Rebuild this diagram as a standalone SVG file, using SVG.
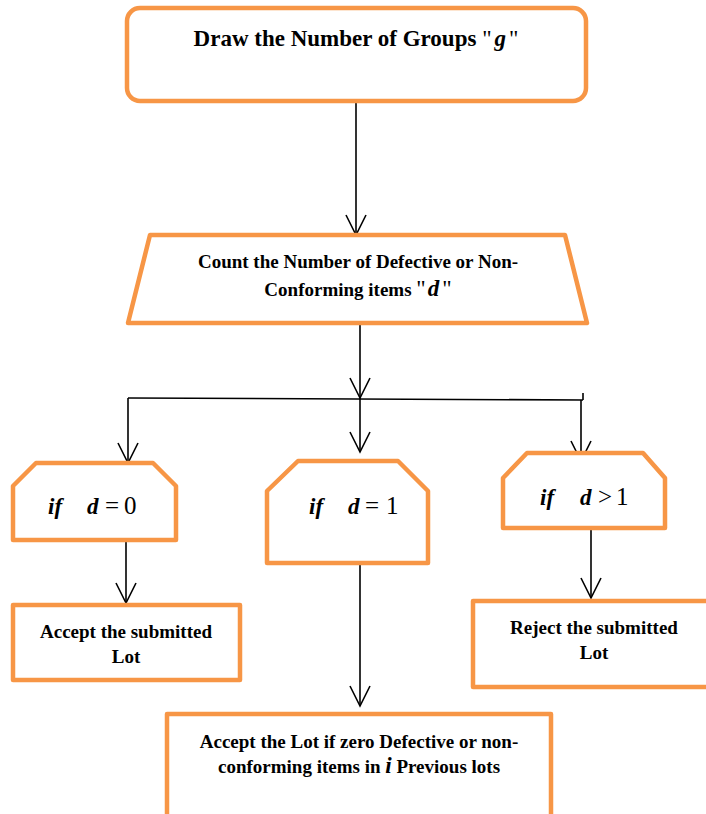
<svg xmlns="http://www.w3.org/2000/svg" width="706" height="814" viewBox="0 0 706 814">
<defs>
<style>
.node{fill:#fff;stroke:#F79646;stroke-width:4.5;stroke-linejoin:round}
.t{font-family:"Liberation Serif","Times New Roman",serif;font-weight:bold;font-size:19px;fill:#000;text-anchor:middle}
.big{font-size:23px}
.m{font-family:"Liberation Serif","Times New Roman",serif;font-size:23px;fill:#000}
.mi{font-style:italic;font-weight:bold}
.op{font-size:25px}
.c{fill:none;stroke:#000;stroke-width:1.6}
</style>
<marker id="v" viewBox="-22 -12 24 24" refX="0" refY="0" markerWidth="24" markerHeight="24" markerUnits="userSpaceOnUse" orient="auto">
<path d="M-20,-10 L0,0 L-20,10" fill="none" stroke="#000" stroke-width="1.6"/>
</marker>
</defs>
<g id="connectors">
<path class="c" d="M356,101 V235" marker-end="url(#v)"/>
<path class="c" d="M360,325 V398" marker-end="url(#v)"/>
<path class="c" d="M128,398 L583,400"/>
<path class="c" d="M583,393 V400"/>
<path class="c" d="M128,398 V463" marker-end="url(#v)"/>
<path class="c" d="M360,398 V452" marker-end="url(#v)"/>
<path class="c" d="M581,400 V461" marker-end="url(#v)"/>
<path class="c" d="M126,540 V603" marker-end="url(#v)"/>
<path class="c" d="M360,563 V706" marker-end="url(#v)"/>
<path class="c" d="M591,528 V598" marker-end="url(#v)"/>
</g>
<g id="n1">
<rect class="node" x="127" y="8" width="459" height="93" rx="13"/>
<text class="t big" x="356" y="46">Draw the Number of Groups <tspan class="m" font-weight="normal">"</tspan><tspan class="m mi" dx="3">g</tspan><tspan class="m" font-weight="normal" dx="3">"</tspan></text>
</g>
<g id="n2">
<polygon class="node" points="150,235 565,235 587,323 128,323"/>
<text class="t" x="358" y="268">Count the Number of Defective or Non-</text>
<text class="t" x="358" y="296">Conforming items <tspan class="m" font-weight="normal">"</tspan><tspan class="m mi" dx="2">d</tspan><tspan class="m" font-weight="normal" dx="3">"</tspan></text>
</g>
<g id="n3">
<polygon class="node" points="36,463 153,463 176,486 176,540 13,540 13,486"/>
<text class="m" x="48" y="514"><tspan class="mi">if</tspan><tspan class="mi" x="87">d</tspan><tspan class="op" x="105">=</tspan><tspan class="op" x="124">0</tspan></text>
</g>
<g id="n4">
<polygon class="node" points="298,461 398,461 428,491 428,563 267,563 267,491"/>
<text class="m" x="309" y="514"><tspan class="mi">if</tspan><tspan class="mi" x="348">d</tspan><tspan class="op" x="365">=</tspan><tspan class="op" x="386">1</tspan></text>
</g>
<g id="n5">
<polygon class="node" points="527,453 643,453 665,478 665,528 503,528 503,478"/>
<text class="m" x="540" y="505"><tspan class="mi">if</tspan><tspan class="mi" x="580">d</tspan><tspan class="op" x="598">&gt;</tspan><tspan class="op" x="616">1</tspan></text>
</g>
<g id="n6">
<rect class="node" x="13" y="605" width="227" height="75"/>
<text class="t" x="126" y="638">Accept the submitted</text>
<text class="t" x="126" y="663">Lot</text>
</g>
<g id="n7">
<rect class="node" x="473" y="601" width="240" height="86"/>
<text class="t" x="594" y="634">Reject the submitted</text>
<text class="t" x="594" y="659">Lot</text>
</g>
<g id="n8">
<rect class="node" x="167" y="714" width="384" height="110"/>
<text class="t" x="359" y="748">Accept the Lot if zero Defective or non-</text>
<text class="t" x="359" y="773">conforming items in <tspan class="m mi">i</tspan> Previous lots</text>
</g>
</svg>
